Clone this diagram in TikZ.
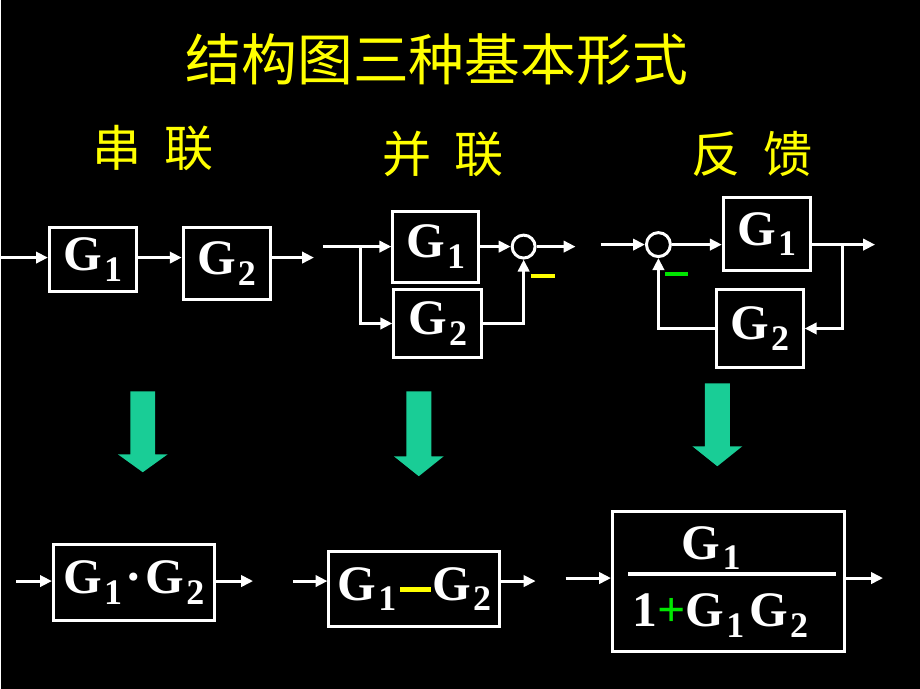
\documentclass[tikz,border=0pt]{standalone}
\usepackage{fontspec}
\setmainfont{Liberation Serif}
\newfontfamily\cjk{Noto Sans CJK SC}
\usepackage{tikz}
\usetikzlibrary{arrows.meta,positioning,calc}
\definecolor{ttlyellow}{RGB}{255,255,0}
\definecolor{minusgreen}{RGB}{0,230,0}
\definecolor{arrteal}{RGB}{25,205,150}
\newcommand\gfont{\bfseries\fontsize{28.3}{30}\selectfont}
\newcommand\Gsub[1]{G\kern1.2pt\raisebox{-6pt}{\fontsize{20.5}{20.5}\selectfont #1}}
\tikzset{
  gbox/.style={draw=white, line width=1.7pt, text=white, font=\gfont, inner sep=0pt},
  gtext/.style={text=white, font=\gfont, inner sep=0pt, anchor=base},
  sumpt/.style={draw=white, line width=1.7pt, circle, inner sep=0pt, minimum size=0.46cm},
  sig/.style={-{Triangle[length=6.8pt,width=6.4pt]}, white, line width=1.7pt},
  wire/.style={white, line width=2pt},
  heading/.style={text=ttlyellow, font=\cjk\fontsize{28}{30}\selectfont},
  bigdown/.style={fill=arrteal},
}

\begin{document}
\begin{tikzpicture}[x=0.02cm, y=-0.02cm]
\fill[black] (0,0) rectangle (920,690);
% title and headings
\node[heading, font=\cjk\fontsize{31.8}{34}\selectfont] (title) at (436,60) {结构图三种基本形式};
\node[heading] (hser) at (152,148) {串\hspace{0.47em}联};
\node[heading] (hpar) at (442,154) {并\hspace{0.47em}联};
\node[heading] (hfb) at (752,154) {反\hspace{0.47em}馈};

% series
\coordinate (sin) at (0,258);
\node[gbox, minimum width=1.74cm, minimum height=1.28cm] (s1) at (91.5,260) {\Gsub{1}};
\node[gbox, minimum width=1.74cm, minimum height=1.44cm] (s2) at (225.5,264) {\Gsub{2}};
\coordinate (sout) at (313,258);
\draw[sig] (sin) -- (sin -| s1.west);
\draw[sig] (s1.east |- sin) -- (sin -| s2.west);
\draw[sig] (s2.east |- sin) -- (sout);

% parallel
\coordinate (pin) at (322,247);
\coordinate (pb) at (360,247);
\node[gbox, minimum width=1.72cm, minimum height=1.42cm] (p1) at (435,247) {\Gsub{1}};
\node[gbox, minimum width=1.76cm, minimum height=1.38cm] (p2) at (437,324) {\Gsub{2}};
\node[sumpt] (pc) at (523,247) {};
\coordinate (pout) at (575,247);
\draw[sig] (pin) -- (p1);
\draw[sig] (pb) |- (p2);
\draw[sig] (p1) -- (pc);
\draw[sig] (pc) -- (pout);
\draw[sig] (p2) -| (pc);
\node[inner sep=0pt] (pminus) at (542,276) {\textcolor{ttlyellow}{\rule{0.48cm}{0.08cm}}};

% feedback
\coordinate (fin) at (600,245);
\node[sumpt, minimum size=0.48cm] (fc) at (658,245) {};
\node[gbox, minimum width=1.74cm, minimum height=1.46cm] (f1) at (766.5,234.5) {\Gsub{1}};
\node[gbox, minimum width=1.74cm, minimum height=1.56cm] (f2) at (759.5,329) {\Gsub{2}};
\coordinate (fb) at (842,245);
\coordinate (fout) at (875,245);
\draw[sig] (fin) -- (fc);
\draw[sig] (fc) -- (fc -| f1.west);
\draw[sig] (f1.east |- fc) -- (fout);
\draw[sig] (fb) |- (f2);
\draw[sig] (f2) -| (fc);
\node[inner sep=0pt] (fminus) at (676.5,274) {\textcolor{minusgreen}{\rule{0.46cm}{0.08cm}}};

% big arrows
\foreach \cx/\ty/\hy/\by in {141.5/392/455/473, 418/392/457/477, 717/384/447/467}
  \fill[bigdown] (\cx-12.5,\ty) -- (\cx+12.5,\ty) -- (\cx+12.5,\hy) -- (\cx+25,\hy)
    -- (\cx,\by) -- (\cx-25,\hy) -- (\cx-12.5,\hy) -- cycle;

% results
\coordinate (rin1) at (15,582);
\node[gbox, minimum width=3.22cm, minimum height=1.54cm] (r1) at (132.5,583.5)
  {\Gsub{1}\kern2pt·\kern2pt\Gsub{2}};
\coordinate (rout1) at (252,582);
\draw[sig] (rin1) -- (rin1 -| r1.west);
\draw[sig] (r1.east |- rin1) -- (rout1);

\coordinate (rin2) at (292,582);
\node[gbox, minimum width=3.42cm, minimum height=1.52cm] (r2) at (413.5,590)
  {\Gsub{1}\kern2pt\textcolor{ttlyellow}{\rule[4.5pt]{18pt}{2.8pt}}\kern0.5pt\Gsub{2}};
\coordinate (rout2) at (535,582);
\draw[sig] (rin2) -- (rin2 -| r2.west);
\draw[sig] (r2.east |- rin2) -- (rout2);

\coordinate (rin3) at (565,579);
\node[gbox, minimum width=4.64cm, minimum height=2.82cm] (r3) at (728,582.5) {};
\node[gtext] (r3num) at (711,560) {\Gsub{1}};
\draw[wire] (628,575) -- (836,575);
\node[gtext] (r3den) at (720,628) {1\textcolor{minusgreen}{+}\Gsub{1}\kern3pt\Gsub{2}};
\coordinate (rout3) at (883,579);
\draw[sig] (rin3) -- (rin3 -| r3.west);
\draw[sig] (r3.east |- rin3) -- (rout3);
\end{tikzpicture}
\end{document}
